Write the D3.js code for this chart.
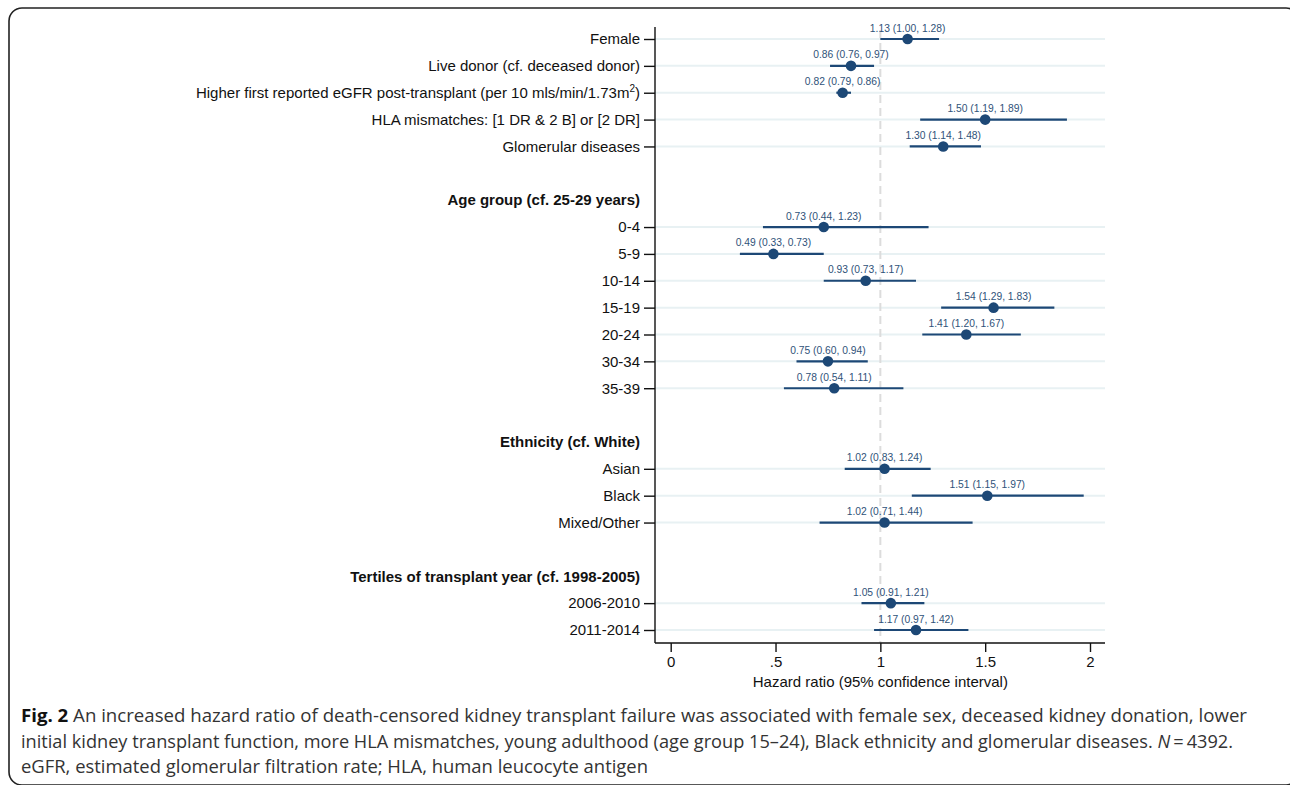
<!DOCTYPE html>
<html>
<head>
<meta charset="utf-8">
<script src="https://cdn.jsdelivr.net/npm/d3@7"></script>
<style>
  body { margin: 0; background: #fff; }
  svg { display: block; }
</style>
</head>
<body>
<svg id="chart" width="1290" height="785"></svg>
<script>
// rows top to bottom; "" = spacer row
var rowLabels = ["Female", "Live donor (cf. deceased donor)", "Higher first reported eGFR post-transplant (per 10 mls/min/1.73m|2|)",
  "HLA mismatches: [1 DR & 2 B] or [2 DR]", "Glomerular diseases", "",
  "Age group (cf. 25-29 years)", "0-4", "5-9", "10-14", "15-19", "20-24", "30-34", "35-39", "",
  "Ethnicity (cf. White)", "Asian", "Black", "Mixed/Other", "",
  "Tertiles of transplant year (cf. 1998-2005)", "2006-2010", "2011-2014"];
var rowKinds = ["d","d","d","d","d","b","h","d","d","d","d","d","d","d","b","h","d","d","d","b","h","d","d"];
var hr = [1.13, 0.86, 0.82, 1.50, 1.30, null, null, 0.73, 0.49, 0.93, 1.54, 1.41, 0.75, 0.78, null, null, 1.02, 1.51, 1.02, null, null, 1.05, 1.17];
var lo = [1.00, 0.76, 0.79, 1.19, 1.14, null, null, 0.44, 0.33, 0.73, 1.29, 1.20, 0.60, 0.54, null, null, 0.83, 1.15, 0.71, null, null, 0.91, 0.97];
var hi = [1.28, 0.97, 0.86, 1.89, 1.48, null, null, 1.23, 0.73, 1.17, 1.83, 1.67, 0.94, 1.11, null, null, 1.24, 1.97, 1.44, null, null, 1.21, 1.42];
var xTicks = [0, 0.5, 1, 1.5, 2];
var xTickLabels = ["0", ".5", "1", "1.5", "2"];

var captionLines = [
  ["Fig. 2", " An increased hazard ratio of death-censored kidney transplant failure was associated with female sex, deceased kidney donation, lower"],
  ["", "initial kidney transplant function, more HLA mismatches, young adulthood (age group 15\u201324), Black ethnicity and glomerular diseases. ", "N", "\u2009=\u20094392."],
  ["", "eGFR, estimated glomerular filtration rate; HLA, human leucocyte antigen"]
];

var svg = d3.select("#chart");
var blue = "#1d4876", labBlue = "#2f5279";
var font = "Liberation Sans";

// frame
svg.append("rect")
    .attr("x", 9).attr("y", 8).attr("width", 1290).attr("height", 777)
    .attr("rx", 13)
    .attr("fill", "none").attr("stroke", "#222").attr("stroke-width", 1.6);

var x = d3.scaleLinear().domain([0, 2]).range([670.7, 1090]);
var y = d3.scalePoint().domain(d3.range(rowLabels.length)).range([39, 630]);

var plotLeft = 655, plotRight = 1105, plotTop = 27, plotBottom = 643;

var rows = rowLabels.map(function(l, i) {
  return {label: l, kind: rowKinds[i], hr: hr[i], lo: lo[i], hi: hi[i], i: i};
});
var dataRows = rows.filter(function(d) { return d.kind === "d"; });

// row grid lines
svg.selectAll(".grid")
    .data(dataRows)
  .enter().append("line")
    .attr("x1", plotLeft).attr("x2", plotRight)
    .attr("y1", function(d) { return y(d.i); })
    .attr("y2", function(d) { return y(d.i); })
    .attr("stroke", "#e8f1f3").attr("stroke-width", 2);

// reference line at 1
svg.append("line")
    .attr("x1", x(1)).attr("x2", x(1))
    .attr("y1", plotTop + 3).attr("y2", plotBottom)
    .attr("stroke", "#dcdcdc").attr("stroke-width", 2)
    .attr("stroke-dasharray", "8,5");

// axes
var yAxis = d3.axisLeft(y)
    .tickValues(dataRows.map(function(d) { return d.i; }))
    .tickSize(11).tickFormat("");
svg.append("g")
    .attr("transform", "translate(" + plotLeft + ",0)")
    .call(yAxis)
    .call(function(g) {
      g.select(".domain").attr("d", "M0," + plotTop + "V" + plotBottom).attr("stroke", "#111").attr("stroke-width", 1.4);
      g.selectAll(".tick line").attr("stroke", "#111").attr("stroke-width", 1.4);
    });

var xAxis = d3.axisBottom(x)
    .tickValues(xTicks)
    .tickSize(9)
    .tickFormat(function(d, i) { return xTickLabels[i]; });
svg.append("g")
    .attr("transform", "translate(0," + plotBottom + ")")
    .call(xAxis)
    .call(function(g) {
      g.select(".domain").attr("d", "M" + plotLeft + ",0H" + plotRight).attr("stroke", "#111").attr("stroke-width", 1.4);
      g.selectAll(".tick line").attr("stroke", "#111").attr("stroke-width", 1.4);
      g.selectAll(".tick text").attr("y", 13).attr("font-family", font).attr("font-size", 15).attr("fill", "#111");
    });

svg.append("text")
    .attr("x", (x(0) + x(2)) / 2).attr("y", 687)
    .attr("text-anchor", "middle")
    .attr("font-family", font).attr("font-size", 15).attr("fill", "#111")
    .text("Hazard ratio (95% confidence interval)");

// row labels
var labels = svg.selectAll(".rowlab")
    .data(rows.filter(function(d) { return d.kind !== "b"; }))
  .enter().append("text")
    .attr("x", 640)
    .attr("y", function(d) { return y(d.i) + 5.3; })
    .attr("text-anchor", "end")
    .attr("font-family", font).attr("font-size", 15).attr("fill", "#111")
    .attr("font-weight", function(d) { return d.kind === "h" ? "bold" : "normal"; });

labels.each(function(d) {
  var parts = d.label.split("|");
  var t = d3.select(this);
  t.append("tspan").text(parts[0]);
  if (parts.length > 1) {
    t.append("tspan").attr("font-size", 10).attr("dy", -6.5).text(parts[1]);
    t.append("tspan").attr("dy", 6.5).text(parts[2]);
  }
});

// CI lines
svg.selectAll(".ci")
    .data(dataRows)
  .enter().append("line")
    .attr("x1", function(d) { return x(d.lo); })
    .attr("x2", function(d) { return x(d.hi); })
    .attr("y1", function(d) { return y(d.i); })
    .attr("y2", function(d) { return y(d.i); })
    .attr("stroke", blue).attr("stroke-width", 2.2);

svg.selectAll(".pt")
    .data(dataRows)
  .enter().append("circle")
    .attr("cx", function(d) { return x(d.hr); })
    .attr("cy", function(d) { return y(d.i); })
    .attr("r", 5.3)
    .attr("fill", blue);

svg.selectAll(".val")
    .data(dataRows)
  .enter().append("text")
    .attr("x", function(d) { return x(d.hr); })
    .attr("y", function(d) { return y(d.i) - 7.5; })
    .attr("text-anchor", "middle")
    .attr("font-family", font).attr("font-size", 10.3).attr("fill", labBlue)
    .text(function(d) { return d.hr.toFixed(2) + " (" + d.lo.toFixed(2) + ", " + d.hi.toFixed(2) + ")"; });

// caption
var capWidths = [1226, 1212, 627];
captionLines.forEach(function(parts, li) {
  var t = svg.append("text")
      .attr("x", 21).attr("y", 722 + li * 25.5)
      .attr("font-family", "'Open Sans', sans-serif").attr("font-size", 17.5).attr("fill", "#333")
      .attr("textLength", capWidths[li]).attr("lengthAdjust", "spacingAndGlyphs");
  parts.forEach(function(p, j) {
    if (!p) return;
    var s = t.append("tspan").text(p);
    if (li === 0 && j === 0) s.attr("font-weight", "bold").attr("fill", "#111");
    if (li === 1 && j === 2) s.attr("font-style", "italic");
  });
});
</script>
</body>
</html>
